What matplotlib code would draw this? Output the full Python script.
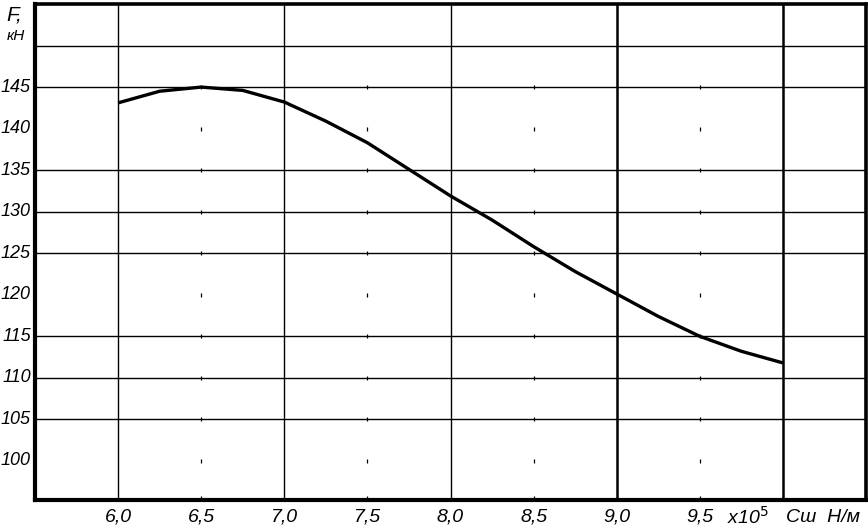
import matplotlib
matplotlib.use("Agg")
import matplotlib.pyplot as plt
import numpy as np

# Data
stiffness = [6.0, 6.25, 6.5, 6.75, 7.0, 7.25, 7.5, 7.75, 8.0, 8.25, 8.5, 8.75,
             9.0, 9.25, 9.5, 9.75, 10.0]
force = [143.1, 144.5, 145.0, 144.6, 143.2, 140.9, 138.3, 135.1, 131.9, 129.0,
         125.8, 122.8, 120.1, 117.4, 115.0, 113.2, 111.8]

x_ticks = [6.0, 6.5, 7.0, 7.5, 8.0, 8.5, 9.0, 9.5]
x_tick_labels = ["6,0", "6,5", "7,0", "7,5", "8,0", "8,5", "9,0", "9,5"]
y_ticks = [100, 105, 110, 115, 120, 125, 130, 135, 140, 145]
y_tick_labels = ["100", "105", "110", "115", "120", "125", "130", "135", "140", "145"]
h_lines = [105, 110, 115, 125, 130, 135, 145, 150]
v_lines_thin = [6.0, 7.0, 8.0]
v_lines_thick = [9.0, 10.0]
dot_x = [6.5, 7.5, 8.5, 9.5]
dot_y = [100, 105, 110, 115, 120, 125, 130, 135, 140, 145]

font = ['Liberation Sans', 'DejaVu Sans']

fig = plt.figure(figsize=(8.68, 5.32), dpi=100)
ax = fig.add_axes([35/868, 32/532, 831/868, 496/532])
ax.set_xlim(5.5, 10.5)
ax.set_ylim(95.3, 155)

for y in h_lines:
    ax.axhline(y, color='black', lw=1.0, zorder=1)
for x in v_lines_thin:
    ax.axvline(x, color='black', lw=1.0, zorder=1)
for x in v_lines_thick:
    ax.axvline(x, color='black', lw=1.8, zorder=1)

dx, dy = np.meshgrid(dot_x, dot_y)
ax.plot(dx.ravel(), dy.ravel(), linestyle='none', marker='|', markersize=2.5,
        markeredgewidth=0.9, color='black', zorder=1)
ax.plot(dot_x, [95.6] * len(dot_x), linestyle='none', marker='|', markersize=2.5,
        markeredgewidth=0.9, color='black', zorder=1)

ax.plot(stiffness, force, color='black', lw=2.4, solid_capstyle='butt',
        solid_joinstyle='round', zorder=3)

for side in ['left', 'bottom']:
    ax.spines[side].set_linewidth(3.0)
for side in ['top', 'right']:
    ax.spines[side].set_linewidth(2.6)

ax.set_xticks(x_ticks)
ax.set_xticklabels(x_tick_labels, family=font, style='italic', fontsize=14)
ax.set_yticks(y_ticks)
ax.set_yticklabels(y_tick_labels, family=font, style='italic', fontsize=13,
                   va='center')
ax.tick_params(axis='both', length=0)
ax.tick_params(axis='x', pad=6)
ax.tick_params(axis='y', pad=3)

ax.text(9.79, 95.3 - 2.05, "x10$^5$", ha='center', va='center', family=font,
        style='italic', fontsize=14, clip_on=False)
ax.text(10.02, 95.3 - 2.05, "Сш  Н/м", ha='left', va='center', family=font,
        style='italic', fontsize=14, clip_on=False)
fig.text(6/868, 1 - 15/532, "F,", ha='left', va='center', family=font,
         style='italic', fontsize=15)
fig.text(7/868, 1 - 36/532, "кН", ha='left', va='center', family=font,
         style='italic', fontsize=11)

fig.savefig("out.png", dpi=100)
